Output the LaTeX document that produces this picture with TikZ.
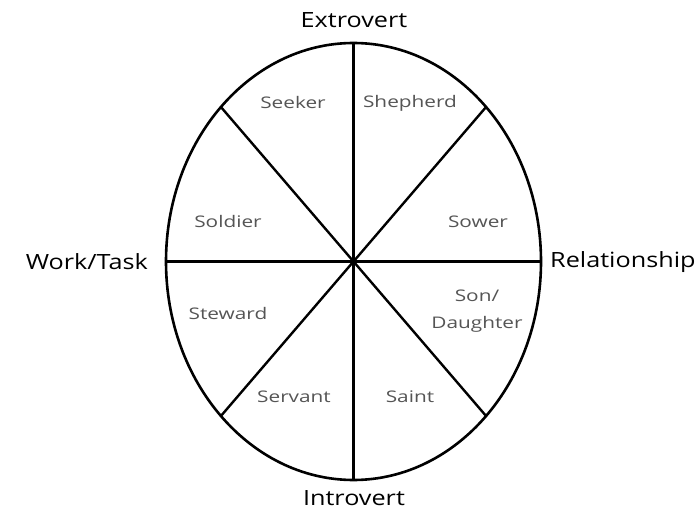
\documentclass[tikz,border=0pt]{standalone}
\usepackage{fontspec}
\setmainfont{Open Sans}
\newfontfamily\handouter[FakeStretch=1.2]{Open Sans}
\newfontfamily\handinner[FakeStretch=1.3]{Open Sans}
\usetikzlibrary{shapes.geometric}
\definecolor{inner}{HTML}{555555}
\tikzset{
  rim/.style={draw=black, line width=2.6pt, ellipse, inner sep=0pt, outer sep=0pt,
    minimum width=375pt, minimum height=437pt},
  spoke/.style={draw=black, line width=2.4pt},
  axislabel/.style={font=\handouter\fontsize{21}{24}\selectfont, text=black, inner sep=0pt},
  sector/.style={font=\handinner\fontsize{16}{27}\selectfont, text=inner, inner sep=0pt, align=center}
}
\begin{document}
\begin{tikzpicture}[x=1pt,y=1pt]
\useasboundingbox (0,0) rectangle (696,512);
\fill[white] (0,0) rectangle (696,512);
\node[rim] (e) at (353.5,250.5) {};
\draw[spoke] (e.north) -- (e.south);
\draw[spoke] (e.west) -- (e.east);
\draw[spoke] (e.north west) -- (e.south east);
\draw[spoke] (e.north east) -- (e.south west);
\node[axislabel] (ext) at (354,492) {Extrovert};
\node[axislabel] (int) at (354,14) {Introvert};
\node[axislabel, anchor=east] (work) at (148,250) {Work/Task};
\node[axislabel, anchor=west] (rel) at (550,250) {Relationship};
\node[sector] (seeker) at (293,409) {Seeker};
\node[sector] (shepherd) at (410,409) {Shepherd};
\node[sector] (soldier) at (228,290) {Soldier};
\node[sector] (sower) at (478,290) {Sower};
\node[sector] (steward) at (228,199) {Steward};
\node[sector] (son) at (477,200.5) {Son/\\Daughter};
\node[sector] (servant) at (294,115) {Servant};
\node[sector] (saint) at (410,115) {Saint};
\end{tikzpicture}
\end{document}
